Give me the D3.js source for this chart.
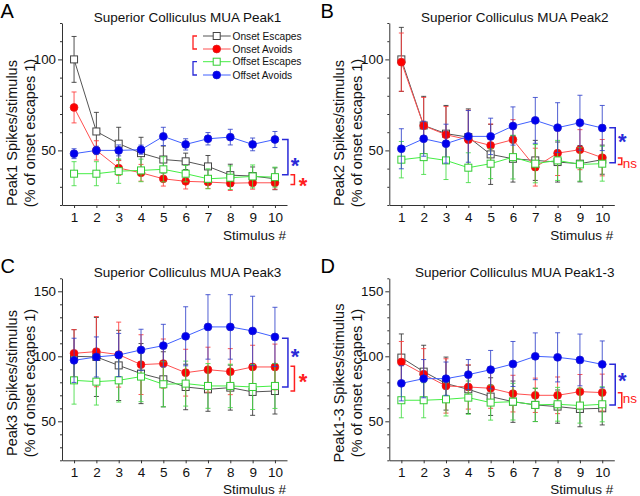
<!DOCTYPE html>
<html><head><meta charset="utf-8">
<script src="https://cdn.jsdelivr.net/npm/d3@7"></script>
<style>body{margin:0;background:#fff}svg{font-family:"Liberation Sans",Arial,sans-serif;display:block}</style>
</head><body><svg id="c" width="640" height="496"></svg>
<script>
const stimuli = [1,2,3,4,5,6,7,8,9,10];
const seriesNames = ["Onset Escapes","Onset Avoids","Offset Escapes","Offset Avoids"];
const panelLetters = ["A","B","C","D"];
const panelTitles = ["Superior Colliculus MUA Peak1","Superior Colliculus MUA Peak2","Superior Colliculus MUA Peak3","Superior Colliculus MUA Peak1-3"];
const yLabels1 = ["Peak1 Spikes/stimulus","Peak2 Spikes/stimulus","Peak3 Spikes/stimulus","Peak1-3 Spikes/stimulus"];
const yLabel2 = "(% of onset escapes 1)";
const xLabel = "Stimulus #";
const yDomains = [[20,120],[20,120],[20,160],[20,160]];
const yMajorTicks = [[50,100],[50,100],[50,100,150],[50,100,150]];

// Panel A (Peak1)
const A_onsetEsc = [100,60.4,53.7,48.5,45,44,41.2,36.4,35.9,34.4];
const A_onsetEscErr = [12.6,10.5,9,8.7,7.4,4.5,6,6,5,6];
const A_onsetAv = [73.6,50,40.3,37.7,34.4,33,32.6,32,32.2,32.2];
const A_onsetAvErr = [8.5,5.3,4.1,4.6,4,4.2,3.5,4,3.5,3.5];
const A_offsetEsc = [37.2,37.2,38.6,39,39.6,37.2,34.4,35,35.7,35.3];
const A_offsetEscErr = [6.6,6.6,6.7,6.2,6.9,4.5,5.5,6.5,6.3,5.5];
const A_offsetAv = [48.2,50,50,50.4,57.7,53.3,56.4,57.3,53.3,56];
const A_offsetAvErr = [2.7,2.3,3,2.5,5,3.1,3.4,4.3,3.5,4.4];

// Panel B (Peak2)
const B_onsetEsc = [100,63.7,59.2,57.3,47.8,45.4,44.5,43.6,42.7,44.9];
const B_onsetEscErr = [17.6,16,15.5,15.5,16.5,12.8,11,11,10,8];
const B_onsetAv = [98.5,63.6,58.6,55.9,52.7,55.9,40.8,48.5,50.4,46];
const B_onsetAvErr = [16,15.5,15.5,16.2,11.8,11,10.4,12.3,11,10];
const B_offsetEsc = [44.9,46.3,44.5,40.5,42.7,46.3,42.7,44.5,42.3,42.7];
const B_offsetEscErr = [10,9.5,10.5,8.2,8.2,12,10.5,11,9.2,9.6];
const B_offsetAv = [50.9,56.4,53.7,57.7,57.7,63.4,66.5,62.5,65.2,62.3];
const B_offsetAvErr = [11,9.6,10.7,14.2,10,10.5,12.6,13.7,15.1,12.4];

// Panel C (Peak3)
const C_onsetEsc = [100,99.5,93,86.7,82.3,76.4,74.6,75.9,72.6,73.3];
const C_onsetEscErr = [20.5,30.4,27,23.1,21.2,17.5,16.9,17.3,18,17.7];
const C_onsetAv = [102.3,103.6,101.3,93.6,94.4,87.4,89.7,88.2,91.8,91.8];
const C_onsetAvErr = [18.2,27,25,23,18.9,18,17.3,17.7,16.7,17.6];
const C_offsetEsc = [81.5,80.5,81.5,84.4,78.5,79,77.2,77.2,76.4,77.2];
const C_offsetEscErr = [18.3,18,16.7,19.3,17.3,17.3,17.2,16.7,17.3,17.3];
const C_offsetAv = [96.9,99.5,101,104.9,108.2,115.4,122.6,122.6,119.5,114.9];
const C_offsetAvErr = [17,15.4,16.6,15.9,16.4,22.7,24.8,24.8,26.7,22.8];

// Panel D (Peak1-3)
const D_onsetEsc = [99,88.2,79,74.6,69,65.1,62.6,61.3,59.5,60];
const D_onsetEscErr = [18.2,20.3,20.4,18.6,14.5,15.9,12.8,12.8,13.7,12.8];
const D_onsetAv = [95.6,86.2,77.2,76.4,75.4,71.3,70,70,72.8,72.1];
const D_onsetAvErr = [15.8,19.7,20.9,17,15.4,14.1,13.2,14.1,13.2,14.2];
const D_offsetEsc = [66.2,66.2,66.9,68.2,64.4,65.1,62.6,63.1,62.1,63.1];
const D_offsetEscErr = [13.5,13.5,12.8,12.8,13.5,14.1,12.8,13,13.5,13.5];
const D_offsetAv = [79.2,82.8,82.8,85.9,89.7,94.1,100,99.2,97.2,93.8];
const D_offsetAvErr = [13.5,14.7,12.8,11.6,14.8,17.3,18,18.9,19.9,18];

// significance brackets [top, bottom], labels and label heights (data units)
const blueBrackets = [[56,36.6],[62.5,43.2],[113.8,76.4],[93.8,62.5]];
const redBrackets = [[36.6,31.2],[45.8,42.3],[92.3,73.3],[72,60.5]];
const blueSig = ["*","*","*","*"];
const redSig = ["*","ns","*","ns"];
const blueSigAt = [44,57,102.8,84.8];
const redSigAt = [33.1,43,83.5,67.2];

const panelData = [
  [[A_onsetEsc,A_onsetEscErr],[A_onsetAv,A_onsetAvErr],[A_offsetEsc,A_offsetEscErr],[A_offsetAv,A_offsetAvErr]],
  [[B_onsetEsc,B_onsetEscErr],[B_onsetAv,B_onsetAvErr],[B_offsetEsc,B_offsetEscErr],[B_offsetAv,B_offsetAvErr]],
  [[C_onsetEsc,C_onsetEscErr],[C_onsetAv,C_onsetAvErr],[C_offsetEsc,C_offsetEscErr],[C_offsetAv,C_offsetAvErr]],
  [[D_onsetEsc,D_onsetEscErr],[D_onsetAv,D_onsetAvErr],[D_offsetEsc,D_offsetEscErr],[D_offsetAv,D_offsetAvErr]]
];

const styles = [
  {line:"#555", err:"#333", stroke:"#444", fill:"#fff", shape:"square"},
  {line:"#ff5050", err:"#ff3a3a", stroke:"#e02020", fill:"#ff0000", shape:"circle"},
  {line:"#44ee44", err:"#44dd44", stroke:"#33cc33", fill:"#fff", shape:"square"},
  {line:"#4060ff", err:"#3344cc", stroke:"#1a1ad0", fill:"#0000ee", shape:"circle"}
];
const RED = "#ff2020", BLUE = "#2a2ad8";

const svg = d3.select("#c");
const offX = [0,327.3,0,327.3], offY = [0,0,255.3,255.3];

function marker(g, st, x, y) {
  if (st.shape === "square") {
    g.append("rect").attr("x", x-3.5).attr("y", y-3.5).attr("width",7).attr("height",7)
      .attr("fill", st.fill).attr("stroke", st.stroke).attr("stroke-width",1);
  } else {
    g.append("circle").attr("cx", x).attr("cy", y).attr("r", 3.9)
      .attr("fill", st.fill).attr("stroke", st.stroke).attr("stroke-width",0.8);
  }
}

panelData.forEach((series, p) => {
  const ox = offX[p], oy = offY[p];
  const g = svg.append("g");
  const x = d3.scaleLinear().domain([0.46,10.54]).range([62+ox, 287+ox]);
  const y = d3.scaleLinear().domain(yDomains[p]).range([205+oy, 23+oy]);
  const [y0,y1] = yDomains[p];
  const minor = d3.range(y0, y1+0.1, 10).filter(v => !yMajorTicks[p].includes(v));

  g.append("g").attr("transform",`translate(${62+ox},0)`)
    .call(d3.axisLeft(y).tickValues(minor).tickSize(2).tickFormat(""))
    .call(a => a.select(".domain").remove())
    .selectAll("line").attr("stroke","#333");
  const ya = g.append("g").attr("transform",`translate(${62+ox},0)`)
    .call(d3.axisLeft(y).tickValues(yMajorTicks[p]).tickSize(4).tickPadding(2).tickSizeOuter(0));
  ya.select(".domain").attr("stroke","#333");
  ya.selectAll("line").attr("stroke","#333");
  ya.selectAll("text").attr("font-size",13.3).attr("fill","#111").attr("font-family","Liberation Sans, Arial, sans-serif");
  const xa = g.append("g").attr("transform",`translate(0,${205+oy})`)
    .call(d3.axisBottom(x).tickValues(stimuli).tickSize(3).tickPadding(4).tickSizeOuter(0));
  xa.select(".domain").attr("stroke","#333");
  xa.selectAll("line").attr("stroke","#333");
  xa.selectAll("text").attr("font-size",13.5).attr("fill","#111").attr("font-family","Liberation Sans, Arial, sans-serif");

  g.append("text").attr("x", 286+ox).attr("y", (p < 2 ? 240 : 493.5)).attr("text-anchor","end")
    .attr("font-size",13.5).attr("fill","#111").text(xLabel);
  g.append("text").attr("x", 187.5+ox).attr("y", 17+oy).attr("text-anchor","middle")
    .attr("dominant-baseline","central").attr("font-size",13.5).attr("fill","#111").text(panelTitles[p]);
  g.append("text").attr("x", (p%2 ? 320.5 : 0.5)).attr("y", 17.5+oy)
    .attr("font-size",20).attr("fill","#000").text(panelLetters[p]);
  const ly = (p < 2 ? 133 : 383);
  g.append("text").attr("transform",`translate(${12+ox},${ly}) rotate(-90)`)
    .attr("text-anchor","middle").attr("dominant-baseline","central")
    .attr("font-size",14.5).attr("fill","#111").text(yLabels1[p]);
  g.append("text").attr("transform",`translate(${30+ox},${ly}) rotate(-90)`)
    .attr("text-anchor","middle").attr("dominant-baseline","central")
    .attr("font-size",14.5).attr("fill","#111").text(yLabel2);

  series.forEach(([mean, err], s) => {
    const st = styles[s];
    const sg = g.append("g");
    sg.append("path").datum(mean)
      .attr("d", d3.line().x((d,i) => x(stimuli[i])).y(d => y(d)))
      .attr("fill","none").attr("stroke", st.line).attr("stroke-width",1);
    mean.forEach((m,i) => {
      const cx = x(stimuli[i]), t = y(m+err[i]), b = y(m-err[i]);
      sg.append("line").attr("x1",cx).attr("x2",cx).attr("y1",t).attr("y2",b)
        .attr("stroke", st.err).attr("stroke-width",1).attr("opacity",0.85);
      [t,b].forEach(yy => sg.append("line").attr("x1",cx-2.5).attr("x2",cx+2.5).attr("y1",yy).attr("y2",yy)
        .attr("stroke", st.err).attr("stroke-width",1).attr("opacity",0.85));
    });
    mean.forEach((m,i) => marker(sg, st, x(stimuli[i]), y(m)));
  });

  const x10 = x(10);
  const bb = blueBrackets[p], rb = redBrackets[p];
  g.append("path").attr("d", `M${x10+7},${y(bb[0])}H${x10+13}V${y(bb[1])}H${x10+7}`)
    .attr("fill","none").attr("stroke",BLUE).attr("stroke-width",1.5);
  g.append("path").attr("d", `M${x10+15.5},${y(rb[0])}H${x10+19.5}V${y(rb[1])}H${x10+15.5}`)
    .attr("fill","none").attr("stroke",RED).attr("stroke-width",1.5);
  g.append("text").attr("x", x10+20).attr("y", y(blueSigAt[p])+11.5).attr("text-anchor","middle")
    .attr("font-size",22).attr("font-weight","bold").attr("fill",BLUE).text(blueSig[p]);
  if (redSig[p] === "*") {
    g.append("text").attr("x", x10+28).attr("y", y(redSigAt[p])+11.5).attr("text-anchor","middle")
      .attr("font-size",22).attr("font-weight","bold").attr("fill",RED).text(redSig[p]);
  } else {
    g.append("text").attr("x", x10+20.5).attr("y", y(redSigAt[p])).attr("dominant-baseline","central")
      .attr("font-size",13.5).attr("fill",RED).text(redSig[p]);
  }
});

const lg = svg.append("g");
const rowsY = [36,49,61.7,75];
seriesNames.forEach((name,i) => {
  const st = styles[i];
  lg.append("line").attr("x1",203).attr("x2",230.7).attr("y1",rowsY[i]).attr("y2",rowsY[i])
    .attr("stroke", st.line).attr("stroke-width",1);
  marker(lg, st, 216.7, rowsY[i]);
  lg.append("text").attr("x",232.5).attr("y",rowsY[i]).attr("dominant-baseline","central")
    .attr("font-size",10.2).attr("fill","#111").text(name);
});
lg.append("path").attr("d",`M197,${rowsY[0]}H193V${rowsY[1]}H197`).attr("fill","none").attr("stroke",RED).attr("stroke-width",1.3);
lg.append("path").attr("d",`M197,${rowsY[2]}H193V${rowsY[3]}H197`).attr("fill","none").attr("stroke",BLUE).attr("stroke-width",1.3);
</script></body></html>
